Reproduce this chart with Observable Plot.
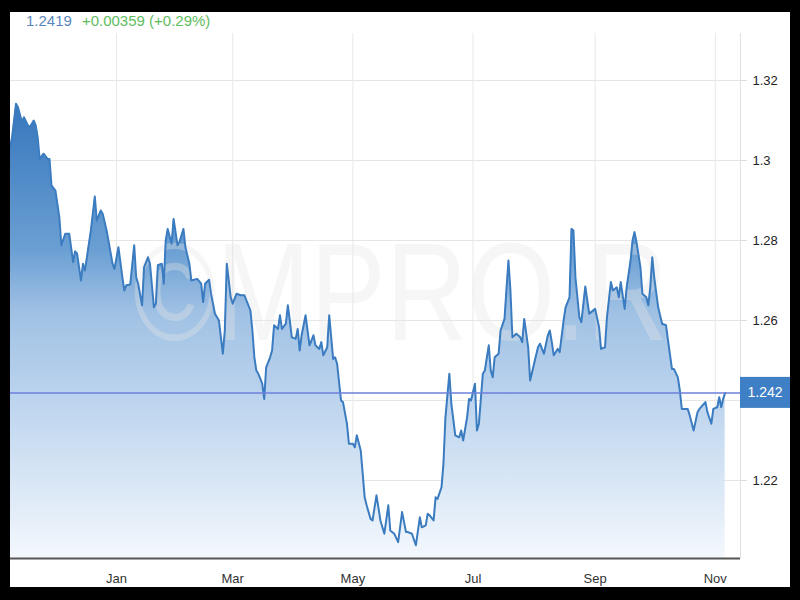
<!DOCTYPE html>
<html>
<head>
<meta charset="utf-8">
<script src="https://cdn.jsdelivr.net/npm/d3@7"></script>
<script src="https://cdn.jsdelivr.net/npm/@observablehq/plot@0.6"></script>
<style>
html, body { margin: 0; padding: 0; background: #000; }
#frame { position: absolute; left: 10px; top: 12px; width: 780px; height: 575px; background: #fff; overflow: hidden; }
#head { height: 20px; line-height: 20px; padding-left: 16px; font: 15px "Liberation Sans", Arial, sans-serif; white-space: nowrap; }
#price { color: #5b86bd; }
#chg { color: #5ebd5e; margin-left: 10px; }
#chart svg { display: block; }
</style>
</head>
<body>
<div id="frame">
  <div id="head"><span id="price"></span><span id="chg"></span></div>
  <div id="chart"></div>
</div>
<script>
// Days from 2019-01-01 (trading days)
const dayOffsets = [
  -54,-53,-51,-50,-48,-47,-45,-44,-42,-41,-40,-39,-37,-35,-34,-33,-31,-29,-28,-26,
  -24,-22,-21,-20,-18,-17,-16,-13,-11,-10,-8,-7,-5,-2,-1,1,3,4,5,7,
  9,10,11,13,14,16,17,19,20,21,23,24,25,26,28,29,31,32,34,35,37,
  38,41,43,44,45,47,48,50,52,54,55,56,58,59,61,63,65,66,68,69,
  70,71,72,74,75,76,78,79,80,82,83,84,86,87,88,89,91,92,93,94,
  96,97,98,100,101,103,104,105,107,108,110,111,112,114,115,117,118,120,121,122,
  124,125,126,127,129,
  130,132,134,136,138,139,141,143,145,147,148,150,152,154,155,157,158,159,161,162,
  163,165,166,167,169,170,172,174,175,176,178,179,180,182,183,184,186,187,189,190,
  191,192,194,195,197,198,199,200,201,203,205,206,207,209,210,212,214,215,217,219,
  220,221,222,224,225,227,228,230,231,232,233,235,236,238,240,241,243,245,246,248,
  249,251,252,254,255,256,258,259,261,262,263,264,266,267,269,270,271,272,273,275,
  277,279,280,282,283,285,286,287,290,291,293,295,296,299,300,302,303,305,306,307,
  308,309
];
const rates = [
  1.3033,1.3058,1.3142,1.3133,1.3096,1.3108,1.3088,1.3083,1.3100,1.3088,1.3058,1.3004,1.3017,1.3004,1.3004,1.2938,1.2925,1.2858,1.2788,1.2817,
  1.2817,1.2746,1.2773,1.2767,1.2700,1.2742,1.2725,1.2825,1.2910,1.2850,1.2875,1.2867,1.2825,1.2742,1.2729,1.2783,1.2708,1.2675,1.2688,1.2690,
  1.2788,1.2708,1.2692,1.2638,1.2733,1.2758,1.2742,1.2633,1.2642,1.2738,1.2742,1.2692,1.2800,1.2829,1.2792,1.2854,1.2788,1.2796,1.2829,1.2783,1.2742,
  1.2700,1.2704,1.2692,1.2646,1.2692,1.2702,1.2667,1.2617,1.2600,1.2517,1.2575,1.2742,1.2658,1.2642,1.2667,1.2663,1.2663,1.2650,1.2625,1.2575,
  1.2508,1.2475,1.2467,1.2442,1.2404,1.2483,1.2508,1.2525,1.2588,1.2579,1.2613,1.2579,1.2592,1.2638,1.2600,1.2558,1.2554,1.2579,1.2525,1.2563,
  1.2613,1.2575,1.2538,1.2563,1.2538,1.2529,1.2546,1.2513,1.2533,1.2613,1.2504,1.2508,1.2492,1.2400,1.2396,1.2342,1.2292,1.2292,1.2283,1.2313,
  1.2275,1.2217,1.2158,1.2138,1.2104,
  1.2100,1.2163,1.2100,1.2067,1.2138,1.2075,1.2067,1.2046,1.2121,1.2071,1.2071,1.2067,1.2038,1.2108,1.2083,1.2088,1.2117,1.2113,1.2100,1.2158,
  1.2154,1.2183,1.2242,1.2358,1.2467,1.2392,1.2313,1.2308,1.2325,1.2300,1.2358,1.2404,1.2400,1.2442,1.2325,1.2342,1.2467,1.2475,1.2538,1.2475,
  1.2458,1.2508,1.2517,1.2575,1.2604,1.2679,1.2750,1.2675,1.2558,1.2567,1.2558,1.2546,1.2604,1.2533,1.2450,1.2492,1.2533,1.2542,1.2517,1.2563,
  1.2575,1.2546,1.2513,1.2529,1.2521,1.2600,1.2633,1.2658,1.2829,1.2825,1.2708,1.2608,1.2596,1.2685,1.2617,1.2621,1.2629,1.2583,1.2529,1.2533,
  1.2608,1.2696,1.2675,1.2683,1.2658,1.2696,1.2629,1.2683,1.2750,1.2800,1.2821,1.2796,1.2733,1.2667,1.2658,1.2638,1.2683,1.2758,1.2708,1.2633,
  1.2592,1.2588,1.2550,1.2479,1.2479,1.2458,1.2425,1.2379,1.2379,1.2363,1.2325,1.2371,1.2379,1.2396,1.2371,1.2342,1.2379,1.2383,1.2408,1.2383,
  1.2404,1.2419
];
const monthTicks = ["2019-01-01","2019-03-01","2019-05-01","2019-07-01","2019-09-01","2019-11-01"];
const gridValues = [1.22, 1.24, 1.26, 1.28, 1.30, 1.32];
const yTickValues = [1.22, 1.26, 1.28, 1.3, 1.32];
const xDomain = ["2018-11-08T04:48Z", "2019-11-13T19:12Z"];
const yDomain = [1.2005, 1.33175];
const lastPrice = 1.2419;
const priceText = "1.2419";
const changeText = "+0.00359 (+0.29%)";
const boxText = "1.242";
const watermarkText = "©MPRO.R";

document.getElementById("price").textContent = priceText;
document.getElementById("chg").textContent = changeText;

const base = Date.UTC(2019, 0, 1);
const data = dayOffsets.map((d, i) => ({date: new Date(base + d * 864e5), rate: rates[i]}));
const monthDates = monthTicks.map(s => new Date(s));
const xEnd = new Date(xDomain[1]);

const chart = Plot.plot({
  width: 780,
  height: 555,
  marginLeft: 0,
  marginRight: 50,
  marginTop: 1,
  marginBottom: 29,
  style: {fontFamily: '"Liberation Sans", Arial, sans-serif', fontSize: "13px", background: "#fff", overflow: "visible"},
  x: {type: "utc", domain: xDomain.map(s => new Date(s)), label: null},
  y: {domain: yDomain, label: null},
  marks: [
    Plot.ruleY(gridValues, {stroke: "#e6e6e6", strokeWidth: 1}),
    Plot.ruleX(monthDates, {stroke: "#e8e8e8", strokeWidth: 1}),
    Plot.ruleX([xEnd], {stroke: "#e0e0e0", strokeWidth: 1}),
    Plot.areaY(data, {x: "date", y1: yDomain[0], y2: "rate", fill: "url(#gfill)", curve: "linear"}),
    Plot.line(data, {x: "date", y: "rate", stroke: "#3b7cc0", strokeWidth: 2, curve: "linear"}),
    Plot.ruleY([lastPrice], {stroke: "#6c7fdc", strokeWidth: 1.5}),
    Plot.ruleY([yDomain[0]], {stroke: "#555", strokeWidth: 2}),
    Plot.axisX(monthDates, {anchor: "bottom", tickSize: 0, tickPadding: 15, tickFormat: d3.utcFormat("%b"), label: null, fill: "#333"}),
    Plot.axisY(yTickValues, {anchor: "right", tickSize: 6, tickPadding: 6, tickFormat: d => String(d), label: null, stroke: "#dcdcdc", fill: "#222"})
  ]
});

document.getElementById("chart").appendChild(chart);

const svg = d3.select(chart);
const defs = svg.insert("defs", ":first-child");
const grad = defs.append("linearGradient")
  .attr("id", "gfill")
  .attr("gradientUnits", "userSpaceOnUse")
  .attr("x1", 0).attr("x2", 0).attr("y1", 71).attr("y2", 526);
[[0, "#3676bc"], [0.32, "#6a9fd3"], [0.46, "#a0c1e4"], [0.65, "#bcd4ee"], [0.83, "#d8e6f5"], [1, "#f4f8fd"]]
  .forEach(([o, c]) => grad.append("stop").attr("offset", o).attr("stop-color", c));

// watermark between area and line
svg.insert("text", 'g[aria-label="line"]')
  .attr("x", 123).attr("y", 308)
  .attr("text-anchor", "start")
  .attr("font-family", '"Liberation Sans", Arial, sans-serif')
  .attr("font-size", 140)
  .attr("textLength", 535)
  .attr("lengthAdjust", "spacingAndGlyphs")
  .attr("fill", "#e4e4e4")
  .attr("fill-opacity", 0.35)
  .text(watermarkText);

// current-price box on the right axis
const yPix = chart.scale("y").apply(lastPrice);
svg.append("rect")
  .attr("x", 730).attr("y", yPix - 15.5)
  .attr("width", 50).attr("height", 31)
  .attr("fill", "#3f7fc5");
svg.append("text")
  .attr("x", 755).attr("y", yPix)
  .attr("dy", "0.35em")
  .attr("text-anchor", "middle")
  .attr("font-family", '"Liberation Sans", Arial, sans-serif')
  .attr("font-size", 14)
  .attr("fill", "#fff")
  .text(boxText);
</script>
</body>
</html>
